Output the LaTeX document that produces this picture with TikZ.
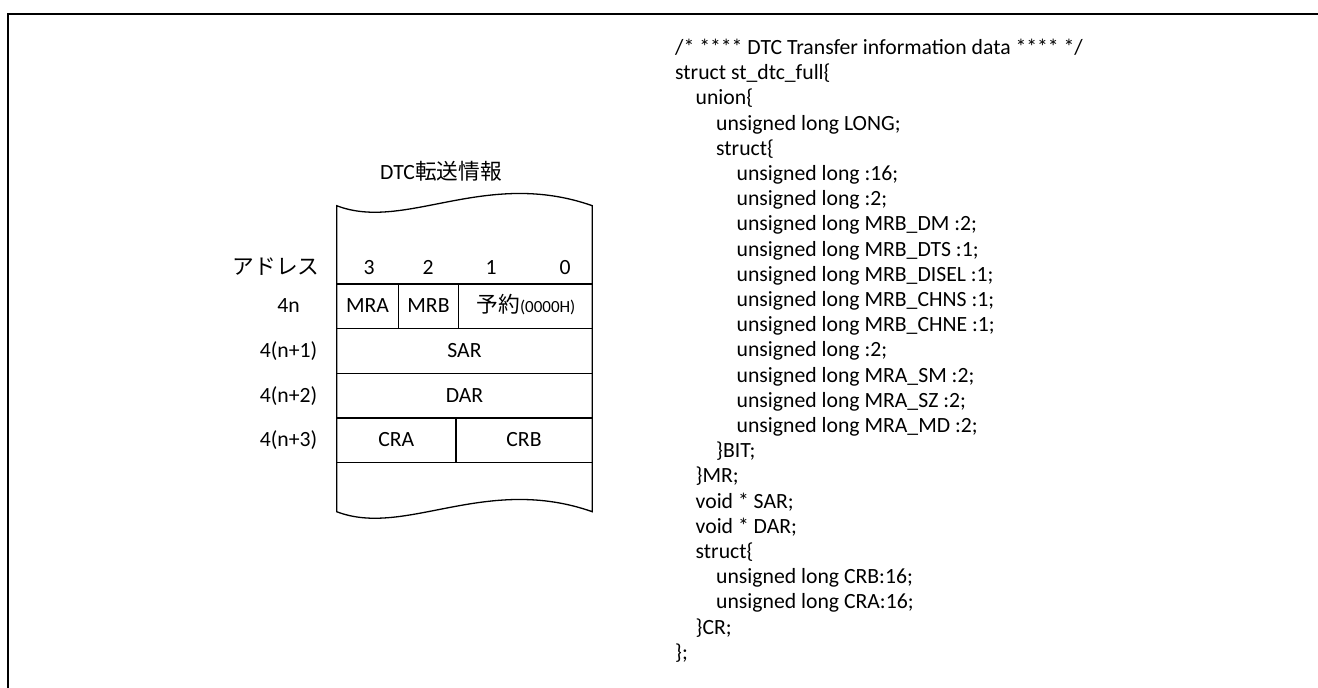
\documentclass[tikz,border=0pt]{standalone}
\usepackage{fontspec}
\setmainfont{Carlito}
\newfontfamily\cjk{Noto Sans CJK JP}
\begin{document}
\begin{tikzpicture}[x=1pt,y=-1pt,
  txt/.style={font=\fontsize{21.7}{25}\selectfont,inner sep=0pt,anchor=base},
  code/.style={font=\fontsize{21.7}{25}\selectfont,inner sep=0pt,anchor=base west},
  cell/.style={draw,line width=1.3pt,rectangle,inner sep=0pt,minimum height=44.7pt}
]
\useasboundingbox (0,0) rectangle (1318,688);
% outer frame
\draw[line width=2pt] (7.5,700) -- (7.5,14) -- (1330,14);

% memory box outline
\coordinate (tl) at (336.7,205.7);
\coordinate (tr) at (592.3,205.7);
\coordinate (bl) at (336.7,511.7);
\coordinate (br) at (592.3,511.7);
\draw[line width=1.3pt] (tl) .. controls (405,232) and (485,168) .. (tr) -- (br)
  .. controls (485,474) and (405,538) .. (bl) -- cycle;

% cells
\node[cell,minimum width=61.6pt] (mra) at (367.5,306.35) {};
\node[cell,minimum width=60.4pt] (mrb) at (428.5,306.35) {};
\node[cell,minimum width=133.6pt] (rsv) at (525.5,306.35) {};
\node[cell,minimum width=255.6pt] (sar) at (464.5,351.05) {};
\node[cell,minimum width=255.6pt] (dar) at (464.5,395.75) {};
\node[cell,minimum width=119.3pt] (cra) at (396.35,440.45) {};
\node[cell,minimum width=136.3pt] (crb) at (524.15,440.45) {};

% cell texts
\node[txt] (tmra) at (367.5,312.8) {MRA};
\node[txt] (tmrb) at (428.5,312.8) {MRB};
\node[txt] (trsv) at (526,312.8) {{\cjk 予約}{\fontsize{17}{20}\selectfont (0000H)}};
\node[txt] (tsar) at (464.5,357.5) {SAR};
\node[txt] (tdar) at (464.5,402.2) {DAR};
\node[txt] (tcra) at (396.3,446.8) {CRA};
\node[txt] (tcrb) at (524,446.8) {CRB};

% header
\node[txt] (title) at (441,179.5) {DTC{\cjk 転送情報}};
\node[txt] (h3) at (369,274.5) {3};
\node[txt] (h2) at (428,274.5) {2};
\node[txt] (h1) at (491,274.5) {1};
\node[txt] (h0) at (565,274.5) {0};

% addresses
\node[txt] (adr) at (276,274.5) {\cjk アドレス};
\node[txt] (a0) at (288.5,312.8) {4n};
\node[txt] (a1) at (288.5,357.5) {4(n+1)};
\node[txt] (a2) at (288.5,402.2) {4(n+2)};
\node[txt] (a3) at (288.5,446.8) {4(n+3)};

% code
\def\ind{20.5}
\node[code] (c1) at (675,54.5+0*25.2) {/* **** DTC Transfer information data **** */};
\node[code] (c2) at (675,54.5+1*25.2) {struct st\_dtc\_full\{};
\node[code] (c3) at (675+1*\ind,54.5+2*25.2) {union\{};
\node[code] (c4) at (675+2*\ind,54.5+3*25.2) {unsigned long LONG;};
\node[code] (c5) at (675+2*\ind,54.5+4*25.2) {struct\{};
\node[code] (c6) at (675+3*\ind,54.5+5*25.2) {unsigned long :16;};
\node[code] (c7) at (675+3*\ind,54.5+6*25.2) {unsigned long :2;};
\node[code] (c8) at (675+3*\ind,54.5+7*25.2) {unsigned long MRB\_DM :2;};
\node[code] (c9) at (675+3*\ind,54.5+8*25.2) {unsigned long MRB\_DTS :1;};
\node[code] (c10) at (675+3*\ind,54.5+9*25.2) {unsigned long MRB\_DISEL :1;};
\node[code] (c11) at (675+3*\ind,54.5+10*25.2) {unsigned long MRB\_CHNS :1;};
\node[code] (c12) at (675+3*\ind,54.5+11*25.2) {unsigned long MRB\_CHNE :1;};
\node[code] (c13) at (675+3*\ind,54.5+12*25.2) {unsigned long :2;};
\node[code] (c14) at (675+3*\ind,54.5+13*25.2) {unsigned long MRA\_SM :2;};
\node[code] (c15) at (675+3*\ind,54.5+14*25.2) {unsigned long MRA\_SZ :2;};
\node[code] (c16) at (675+3*\ind,54.5+15*25.2) {unsigned long MRA\_MD :2;};
\node[code] (c17) at (675+2*\ind,54.5+16*25.2) {\}BIT;};
\node[code] (c18) at (675+1*\ind,54.5+17*25.2) {\}MR;};
\node[code] (c19) at (675+1*\ind,54.5+18*25.2) {void * SAR;};
\node[code] (c20) at (675+1*\ind,54.5+19*25.2) {void * DAR;};
\node[code] (c21) at (675+1*\ind,54.5+20*25.2) {struct\{};
\node[code] (c22) at (675+2*\ind,54.5+21*25.2) {unsigned long CRB:16;};
\node[code] (c23) at (675+2*\ind,54.5+22*25.2) {unsigned long CRA:16;};
\node[code] (c24) at (675+1*\ind,54.5+23*25.2) {\}CR;};
\node[code] (c25) at (675,54.5+24*25.2) {\};};
\end{tikzpicture}
\end{document}
